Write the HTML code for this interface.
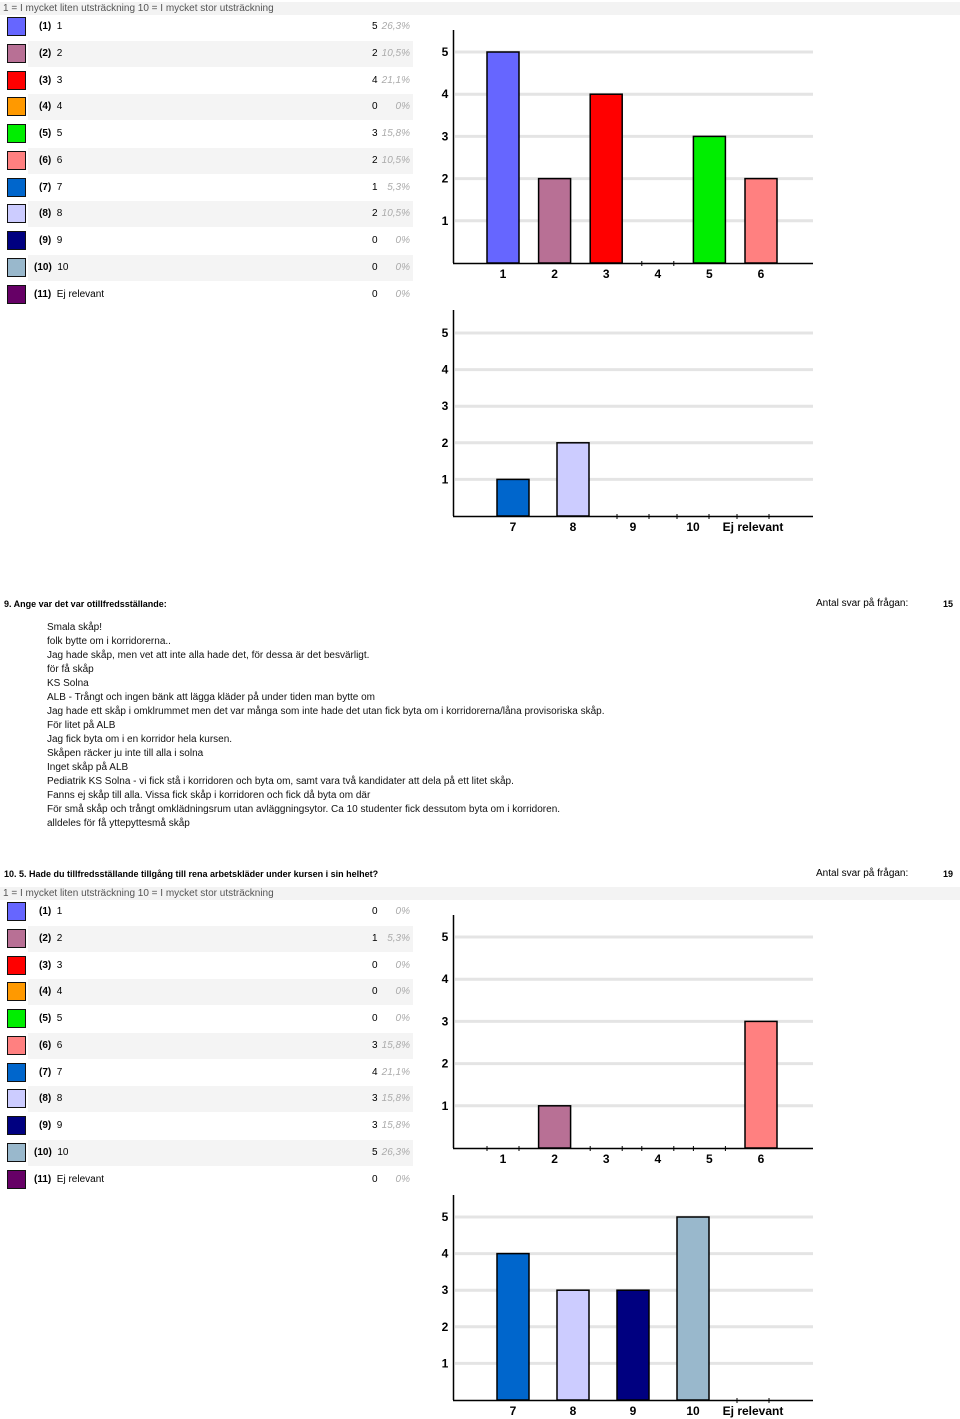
<!DOCTYPE html>
<html><head><meta charset="utf-8">
<style>
body{margin:0;width:960px;height:1419px;background:#fff;font-family:"Liberation Sans",Arial,sans-serif;font-size:10px;color:#000;position:relative;overflow:hidden}
.a{position:absolute;white-space:nowrap}
.hdr{position:absolute;left:0;width:960px;height:13px;background:#f3f3f3;color:#555;font-size:10px;line-height:13px;padding-left:3px;box-sizing:border-box}
.q{font-weight:bold;font-size:9px}
.ans{position:absolute;left:47px;font-size:10px;line-height:14px;color:#111}
svg text{font-family:"Liberation Sans",Arial,sans-serif;font-weight:bold;font-size:12px}
</style></head><body>
<div class="hdr" style="top:2px">1 = I mycket liten utsträckning 10 = I mycket stor utsträckning</div>
<div id="t1"></div>
<svg id="c1" class="a" style="left:0;top:0" width="960" height="1419"></svg>

<div class="a q" style="left:4px;top:599px">9. Ange var det var otillfredsställande:</div>
<div class="a" style="left:816px;top:598px">Antal svar på frågan:</div>
<div class="a q" style="left:943px;top:599px">15</div>
<div class="ans" style="top:621px">
Smala skåp!<br>folk bytte om i korridorerna..<br>Jag hade skåp, men vet att inte alla hade det, för dessa är det besvärligt.<br>för få skåp<br>KS Solna<br>ALB - Trångt och ingen bänk att lägga kläder på under tiden man bytte om<br>Jag hade ett skåp i omklrummet men det var många som inte hade det utan fick byta om i korridorerna/låna provisoriska skåp.<br>För litet på ALB<br>Jag fick byta om i en korridor hela kursen.<br>Skåpen räcker ju inte till alla i solna<br>Inget skåp på ALB<br>Pediatrik KS Solna - vi fick stå i korridoren och byta om, samt vara två kandidater att dela på ett litet skåp.<br>Fanns ej skåp till alla. Vissa fick skåp i korridoren och fick då byta om där<br>För små skåp och trångt omklädningsrum utan avläggningsytor. Ca 10 studenter fick dessutom byta om i korridoren.<br>alldeles för få yttepyttesmå skåp
</div>

<div class="a q" style="left:4px;top:869px">10. 5. Hade du tillfredsställande tillgång till rena arbetskläder under kursen i sin helhet?</div>
<div class="a" style="left:816px;top:868px">Antal svar på frågan:</div>
<div class="a q" style="left:943px;top:869px">19</div>
<div class="hdr" style="top:887px">1 = I mycket liten utsträckning 10 = I mycket stor utsträckning</div>
<div id="t2"></div>

<script>
const categories=["1","2","3","4","5","6","7","8","9","10","Ej relevant"];
const colors=["#6666ff","#b87095","#ff0000","#ff9900","#00ee00","#ff8080","#0066cc","#ccccff","#000080","#99b8cc","#660066"];
const counts1=[5,2,4,0,3,2,1,2,0,0,0];
const pcts1=["26,3%","10,5%","21,1%","0%","15,8%","10,5%","5,3%","10,5%","0%","0%","0%"];
const counts2=[0,1,0,0,0,3,4,3,3,5,0];
const pcts2=["0%","5,3%","0%","0%","0%","15,8%","21,1%","15,8%","15,8%","26,3%","0%"];
const yTicks=[1,2,3,4,5];

function table(id,top,counts,pcts){
  const root=document.getElementById(id);
  categories.forEach((c,i)=>{
    const y=top+i*26.75;
    if(i%2===1){const bg=document.createElement('div');bg.className='a';bg.style.cssText=`left:28px;top:${y-13}px;width:385px;height:26px;background:#f4f4f4`;
      
      root.appendChild(bg);}
    const sw=document.createElement('div');sw.className='a';
    sw.style.cssText=`left:7px;top:${y-10}px;width:17px;height:17px;border:1.5px solid #111;background:${colors[i]}`;
    
    root.appendChild(sw);
    const lb=document.createElement('div');lb.className='a';lb.style.cssText=`left:${i>=9?34:39}px;top:${y-6}px`;
    lb.innerHTML=`<b>(${i+1})</b>&nbsp; ${c}`;
    
    root.appendChild(lb);
    const ct=document.createElement('div');ct.className='a';ct.style.cssText=`left:372px;top:${y-6}px`;ct.textContent=counts[i];
    
    root.appendChild(ct);
    const pc=document.createElement('div');pc.className='a';pc.style.cssText=`right:550px;top:${y-6}px;color:#aaa;font-style:italic`;pc.textContent=pcts[i];
    
    root.appendChild(pc);
  });
}
table('t1',27,counts1,pcts1);
table('t2',912,counts2,pcts2);

const svg=document.getElementById('c1');const NS='http://www.w3.org/2000/svg';
function mk(t,a,name){const e=document.createElementNS(NS,t);for(const k in a)e.setAttribute(k,a[k]);
  
  svg.appendChild(e);return e;}
function chart(top,base,unit,idx,counts,x0,step){
  const yS=v=>base-v*unit;
  yTicks.forEach(t=>{mk('line',{x1:455,x2:813,y1:yS(t),y2:yS(t),stroke:'#e4e4e4','stroke-width':3},'gridline');
    const tx=mk('text',{x:445,y:yS(t)+4,'text-anchor':'middle'},'y-tick-label');tx.textContent=t;});
  mk('line',{x1:453.5,x2:453.5,y1:top,y2:base,stroke:'#000','stroke-width':1.5},'y-axis');
  mk('line',{x1:453,x2:813,y1:base+0.5,y2:base+0.5,stroke:'#000','stroke-width':1.5},'x-axis');
  idx.forEach((ci,j)=>{const cx=x0+j*step;
    if(counts[ci]>0)mk('rect',{x:cx-16,y:yS(counts[ci]),width:32,height:counts[ci]*unit,fill:colors[ci],stroke:'#000','stroke-width':1.5},'bar-'+categories[ci]);
    else{mk('line',{x1:cx-16,x2:cx-16,y1:base-2,y2:base+3,stroke:'#000'},'x-tick');mk('line',{x1:cx+16,x2:cx+16,y1:base-2,y2:base+3,stroke:'#000'},'x-tick');}
    const tx=mk('text',{x:cx,y:base+15,'text-anchor':'middle'},'x-tick-label');tx.textContent=categories[ci];});
}
chart(30,263,42.2,[0,1,2,3,4,5],counts1,503,51.6);
chart(310,516,36.6,[6,7,8,9,10],counts1,513,60);
chart(915,1148,42.2,[0,1,2,3,4,5],counts2,503,51.6);
chart(1195,1400,36.6,[6,7,8,9,10],counts2,513,60);
</script>
</body></html>
